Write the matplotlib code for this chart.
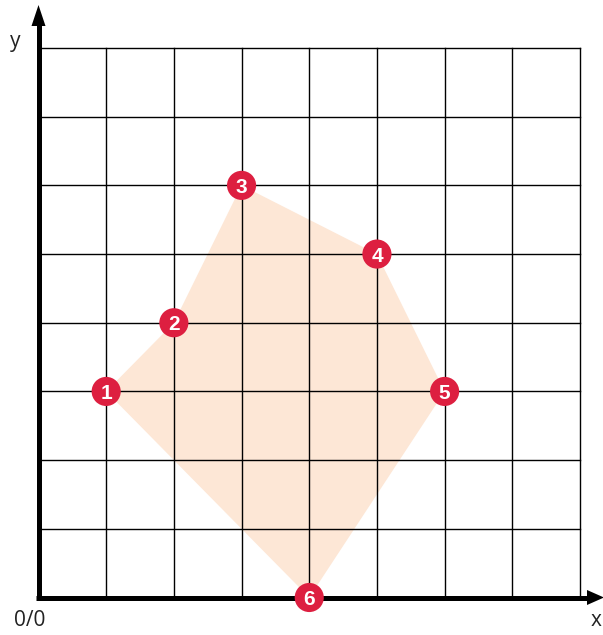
import matplotlib
matplotlib.use("Agg")
import matplotlib.pyplot as plt
from matplotlib.patches import Polygon

labels = ["1", "2", "3", "4", "5", "6"]
xs = [1, 2, 3, 5, 6, 4]
ys = [3, 4, 6, 5, 3, 0]
grid_n = 8

W, H = 603, 635
fig = plt.figure(figsize=(W / 100, H / 100), dpi=100)
x0, x1 = 38.5, 580
y0, y1 = 597.5, 48
ax = fig.add_axes([x0 / W, (H - y0) / H, (x1 - x0) / W, (y0 - y1) / H])
ax.patch.set_visible(False)
ax.set_xlim(0, grid_n)
ax.set_ylim(0, grid_n)
for s in ax.spines.values():
    s.set_visible(False)
ax.set_xticks([])
ax.set_yticks([])

# grid
for i in range(1, grid_n + 1):
    ax.plot([i, i], [0, grid_n], color="black", lw=1.0, zorder=1, clip_on=False)
    ax.plot([0, grid_n], [i, i], color="black", lw=1.0, zorder=1, clip_on=False)

# polygon
poly = Polygon(list(zip(xs, ys)), closed=True, facecolor="#fde7d6", edgecolor="none", zorder=0.5)
ax.add_patch(poly)


def px(x, y):
    return (x / W, 1 - y / H)


# axis lines (pixel coordinates in figure), drawn beneath the axes content
fig.add_artist(plt.Line2D([px(38.5, 0)[0]] * 2, [px(0, 599.5)[1], px(0, 20)[1]],
                          color="black", lw=3.6, solid_capstyle="butt", zorder=-1))
fig.add_artist(plt.Line2D([px(36, 0)[0], px(592, 0)[0]], [px(0, 597.5)[1]] * 2,
                          color="black", lw=3.6, solid_capstyle="butt", zorder=-1))
# arrow heads
fig.add_artist(Polygon([px(38.5, 5), px(31.5, 26), px(45.5, 26)], closed=True,
                       transform=fig.transFigure, facecolor="black", edgecolor="none", zorder=-1))
fig.add_artist(Polygon([px(604, 597.5), px(587, 590), px(587, 605)], closed=True,
                       transform=fig.transFigure, facecolor="black", edgecolor="none", zorder=-1))

# points
ax.scatter(xs, ys, s=440, color="#dd1f40", edgecolor="none", zorder=5, clip_on=False)
for lab, x, y in zip(labels, xs, ys):
    ax.text(x, y, lab, ha="center", va="center_baseline", color="white", fontsize=15,
            fontweight="bold", family="Liberation Sans", zorder=6)

fig.text(15 / W, 1 - 42 / H, "y", ha="center", va="center", fontsize=15, family="Open Sans", color="#222222")
fig.text(596 / W, 1 - 620 / H, "x", ha="center", va="center", fontsize=15, family="Open Sans", color="#222222")
fig.text(30 / W, 1 - 620 / H, "0/0", ha="center", va="center", fontsize=15, family="Open Sans", color="#222222")

fig.savefig("out.png", dpi=100)
